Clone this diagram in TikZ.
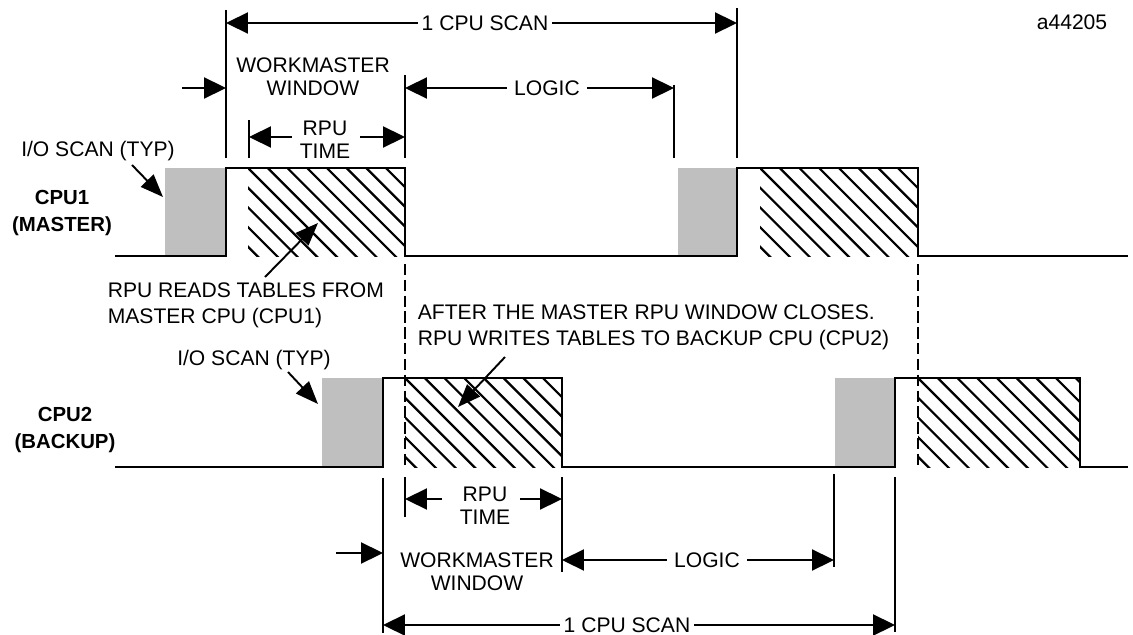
\documentclass[tikz,border=0pt]{standalone}
\usepackage{fontspec}
\setmainfont{Liberation Sans}
\usetikzlibrary{arrows.meta}

\begin{document}
\begin{tikzpicture}[
  x=0.02cm, y=-0.02cm,
  every node/.style={font=\fontsize{12}{13.3}\selectfont, inner sep=2pt},
  lbl/.style={align=center},
  note/.style={align=left, anchor=west, font=\fontsize{12}{14.8}\selectfont},
  cpu/.style={align=center, font=\fontsize{11.6}{15}\selectfont\bfseries},
  sig/.style={line width=1.35pt, line join=miter},
  tick/.style={line width=1pt},
  arr/.style={line width=1pt, -{Triangle[length=12.5pt,width=12pt]}},
  ptr/.style={line width=1.1pt, -{Triangle[length=13pt,width=10pt]}},
  ioscan/.style={fill=black!25},
  hatchln/.style={line width=1.25pt},
  dashln/.style={line width=1pt, dash pattern=on 6.5pt off 2.5pt},
]
  \useasboundingbox (0,0) rectangle (1133,635);

  % I/O scan blocks
  \fill[ioscan] (165,168) rectangle (226,256);
  \fill[ioscan] (678,168) rectangle (737,256);
  \fill[ioscan] (322,378) rectangle (383,467);
  \fill[ioscan] (835,378) rectangle (895,467);

  % RPU hatching
  \foreach \xa/\xb/\ya/\yb in {248/405/168/256, 760/918/168/256,
                               405/562/378/467, 918/1080/378/467} {
    \begin{scope}
      \clip (\xa,\ya) rectangle (\xb,\yb);
      \foreach \k in {-5,...,9}
        \draw[hatchln] (\xa+\k*19.7,\ya) -- ++(100,100);
    \end{scope}
  }

  % time lines
  \draw[sig] (115,256) -- (226,256) -- (226,168) -- (405,168) -- (405,256)
    -- (737,256) -- (737,168) -- (918,168) -- (918,256) -- (1128,256);
  \draw[sig] (115,467) -- (383,467) -- (383,378) -- (562,378) -- (562,467)
    -- (895,467) -- (895,378) -- (1080,378) -- (1080,467) -- (1128,467);
  \draw[dashln] (405,264) -- (405,467);
  \draw[dashln] (918,264) -- (918,467);

  % labels
  \node[cpu] (cpu1) at (62,213) {CPU1\\(MASTER)};
  \node[cpu] (cpu2) at (65,430) {CPU2\\(BACKUP)};
  \node (fig) at (1072,22) {a44205};

  % CPU1 timing
  \draw[tick] (226,10) -- (226,158);
  \draw[tick] (737,8) -- (737,158);
  \draw[tick] (405,75) -- (405,158);
  \draw[tick] (674,85) -- (674,158);
  \draw[tick] (249,120) -- (249,158);

  \node (scan1) at (485,23) {1 CPU SCAN};
  \coordinate (scan1l) at (226,23);
  \coordinate (scan1r) at (737,23);
  \draw[arr] (scan1) -- (scan1l);
  \draw[arr] (scan1) -- (scan1r);

  \node[lbl] (wm1) at (313,76.5) {WORKMASTER\\WINDOW};
  \coordinate (wm1a) at (182,88);
  \coordinate (wm1b) at (226,88);
  \draw[arr] (wm1a) -- (wm1b);

  \node[lbl] (rpu1) at (325,140) {RPU\\TIME};
  \coordinate (rpu1a) at (292,137);
  \coordinate (rpu1b) at (249,137);
  \coordinate (rpu1c) at (360,137);
  \coordinate (rpu1d) at (405,137);
  \draw[arr] (rpu1a) -- (rpu1b);
  \draw[arr] (rpu1c) -- (rpu1d);

  \node[inner sep=4pt] (logic1) at (547,88) {LOGIC};
  \coordinate (logic1l) at (405,88);
  \coordinate (logic1r) at (674,88);
  \draw[arr] (logic1) -- (logic1l);
  \draw[arr] (logic1) -- (logic1r);

  \node (io1) at (98,151) {I/O SCAN (TYP)};
  \coordinate (io1a) at (132,165);
  \coordinate (io1b) at (163,197);
  \draw[ptr] (io1a) -- (io1b);

  \node[note] (reads) at (104,305) {RPU READS TABLES FROM\\MASTER CPU (CPU1)};
  \coordinate (readsa) at (265,277);
  \coordinate (readsb) at (318,223);
  \draw[ptr] (readsa) -- (readsb);

  \node[note] (writes) at (414,327)
    {AFTER THE MASTER RPU WINDOW CLOSES.\\RPU WRITES TABLES TO BACKUP CPU (CPU2)};
  \coordinate (writesa) at (505,357);
  \coordinate (writesb) at (458,407);
  \draw[ptr] (writesa) -- (writesb);

  % CPU2 timing
  \node (io2) at (254,360) {I/O SCAN (TYP)};
  \coordinate (io2a) at (288,372);
  \coordinate (io2b) at (318,404);
  \draw[ptr] (io2a) -- (io2b);

  \draw[tick] (383,478) -- (383,633);
  \draw[tick] (405,477) -- (405,517);
  \draw[tick] (562,477) -- (562,572);
  \draw[tick] (834,474) -- (834,567);
  \draw[tick] (895,477) -- (895,632);

  \node[lbl] (rpu2) at (485,506) {RPU\\TIME};
  \coordinate (rpu2a) at (442,499);
  \coordinate (rpu2b) at (405,499);
  \coordinate (rpu2c) at (520,499);
  \coordinate (rpu2d) at (562,499);
  \draw[arr] (rpu2a) -- (rpu2b);
  \draw[arr] (rpu2c) -- (rpu2d);

  \node[lbl] (wm2) at (477,571.5) {WORKMASTER\\WINDOW};
  \coordinate (wm2a) at (336,553);
  \coordinate (wm2b) at (383,553);
  \draw[arr] (wm2a) -- (wm2b);

  \node[inner sep=4pt] (logic2) at (707,560) {LOGIC};
  \coordinate (logic2l) at (562,560);
  \coordinate (logic2r) at (834,560);
  \draw[arr] (logic2) -- (logic2l);
  \draw[arr] (logic2) -- (logic2r);

  \node (scan2) at (627,625) {1 CPU SCAN};
  \coordinate (scan2l) at (383,625);
  \coordinate (scan2r) at (895,625);
  \draw[arr] (scan2) -- (scan2l);
  \draw[arr] (scan2) -- (scan2r);
\end{tikzpicture}
\end{document}
